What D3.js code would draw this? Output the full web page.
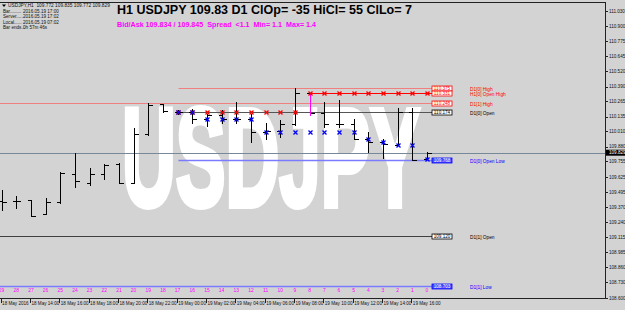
<!DOCTYPE html>
<html>
<head>
<meta charset="utf-8">
<script src="https://cdn.jsdelivr.net/npm/d3@7"></script>
<style>
body { margin: 0; background: #d3d3d3; }
svg { display: block; }
text { font-family: "Liberation Sans", Arial, sans-serif; }
</style>
</head>
<body>
<svg id="chart" width="625" height="310"></svg>
<script>
// H1 bars, numbered like the chart: 29 = oldest shown, 0 = current
const barNo  = [29, 28, 27, 26, 25, 24, 23, 22, 21, 20, 19, 18, 17, 16, 15, 14, 13, 12, 11, 10, 9, 8, 7, 6, 5, 4, 3, 2, 1, 0];
const opens  = [109.420, 109.420, 109.428, 109.310, 109.411, 109.646, 109.575, 109.646, 109.731, 109.570, 109.988, 110.239, 110.174, 110.172, 110.112, 110.150, 110.112, 110.112, 110.002, 110.016, 110.072, 110.331, 110.163, 110.072, 110.072, 109.943, 109.917, 109.894, 110.172, 109.772];
const highs  = [109.513, 109.462, 109.428, 109.448, 109.668, 109.829, 109.697, 109.731, 109.739, 110.036, 110.248, 110.239, 110.190, 110.199, 110.160, 110.190, 110.261, 110.160, 110.078, 110.106, 110.375, 110.331, 110.261, 110.276, 110.112, 110.007, 109.943, 110.205, 110.205, 109.835];
const lows   = [109.344, 109.358, 109.293, 109.310, 109.400, 109.536, 109.555, 109.604, 109.570, 109.570, 109.979, 110.177, 110.157, 110.083, 110.052, 110.083, 110.078, 109.922, 109.943, 109.965, 110.064, 110.149, 110.049, 110.049, 109.943, 109.838, 109.780, 109.894, 109.768, 109.772];
const closes = [109.414, 109.420, 109.293, 109.411, 109.660, 109.587, 109.646, 109.725, 109.575, 109.988, 110.236, 110.183, 110.172, 110.112, 110.150, 110.112, 110.112, 110.002, 110.016, 110.072, 110.331, 110.163, 110.072, 110.072, 109.943, 109.917, 109.903, 110.172, 109.768, 109.829];
const dayStartBar = 17;
const bid = 109.829;

// horizontal levels on the right
const levelNames  = ["D1[0] High", "H1[0] Open High", "D1[1] High", "D1[0] Open", "D1[0] Open Low", "D1[1] Open", "D1[1] Low"];
const levelPrices = [110.375, 110.331, 110.248, 110.174, 109.768, 109.120, 108.703];
const levelFrom   = [17, 8, 30, 17, 17, 30, 30];

// axes
const priceTicks = [111.030, 110.900, 110.775, 110.645, 110.520, 110.390, 110.265, 110.135, 110.010, 109.880, 109.755, 109.625, 109.495, 109.370, 109.240, 109.115, 108.985, 108.860, 108.730, 108.600];
const timeBars   = [29, 27, 25, 23, 21, 19, 17, 15, 13, 11, 9, 7, 5, 3, 1];
const timeLabels = ["18 May 2016", "18 May 14:00", "18 May 16:00", "18 May 18:00", "18 May 20:00", "18 May 22:00", "19 May 00:00", "19 May 02:00", "19 May 04:00", "19 May 06:00", "19 May 08:00", "19 May 10:00", "19 May 12:00", "19 May 14:00", "19 May 16:00"];

const infoKeys = ["Bar.........", "Server.....", "Local......", "Bar ends..."];
const infoVals = ["2016.05.19 17:00", "2016.05.19 17:02", "2016.05.19 07:02", "0h 57m 46s"];
const titleText = "H1 USDJPY 109.83 D1 ClOp= -35 HiCl= 55 ClLo= 7";
const spreadText = "Bid/Ask 109.834 / 109.845  Spread  <1.1  Min= 1.1  Max= 1.4";

const svg = d3.select("svg#chart");
const plotR = 605, plotB = 298, plotT = 2;

const x = d3.scaleLinear().domain([29, 0]).range([1.6, 427]);
const y = d3.scaleLinear().domain([108.6, 111.03]).range([297.7, 11]);
const px = v => Math.round(x(v)) + 0.5;
const py = v => Math.round(y(v)) + 0.5;

const levelColor = {
   "D1[0] High": "#f08080", "H1[0] Open High": "#ff0000", "D1[1] High": "#f08080",
   "D1[0] Open": "#555555", "D1[0] Open Low": "#7b7bff", "D1[1] Open": "#404040", "D1[1] Low": "#7b7bff"
};
const labelColor = {
   "D1[0] High": "#ff0000", "H1[0] Open High": "#ff0000", "D1[1] High": "#ff0000",
   "D1[0] Open": "#000000", "D1[0] Open Low": "#0000ff", "D1[1] Open": "#000000", "D1[1] Low": "#0000ff"
};

svg.append("rect").attr("width", 625).attr("height", 310).attr("fill", "#d3d3d3");

svg.append("clipPath").attr("id", "plot")
   .append("rect").attr("x", 0).attr("y", plotT).attr("width", plotR).attr("height", plotB - plotT);

const g = svg.append("g").attr("clip-path", "url(#plot)");

// watermark
g.append("text")
   .attr("x", 122).attr("y", 206)
   .attr("textLength", 298).attr("lengthAdjust", "spacingAndGlyphs")
   .attr("font-size", 140).attr("font-weight", "bold")
   .attr("fill", "#ffffff")
   .attr("stroke", "#ffffff").attr("stroke-width", 6).attr("stroke-linejoin", "miter")
   .text("USDJPY");

// bid line
g.append("line")
   .attr("x1", 0).attr("x2", plotR)
   .attr("y1", py(bid)).attr("y2", py(bid))
   .attr("stroke", "#778899");

// level lines, boxes and names
const levels = levelNames.map((name, i) => ({ name, price: levelPrices[i], from: levelFrom[i] }));
g.selectAll(".level").data(levels).join("line")
   .attr("class", "level")
   .attr("x1", d => d.from >= 30 ? 0 : px(d.from))
   .attr("x2", 432)
   .attr("y1", d => py(d.price)).attr("y2", d => py(d.price))
   .attr("stroke", d => levelColor[d.name])
   .attr("stroke-width", d => d.name.includes("Low") ? 1.5 : 1);

// running extremes of the H1 opens since the day started
const dayIdx = barNo.map((b, i) => i).filter(i => barNo[i] <= dayStartBar);
let hi = -Infinity, lo = Infinity;
const maxMarks = [], minMarks = [];
dayIdx.forEach(i => {
   hi = Math.max(hi, opens[i]);
   lo = Math.min(lo, opens[i]);
   maxMarks.push({ bar: barNo[i], price: hi });
   minMarks.push({ bar: barNo[i], price: lo });
});
const cross = "M-2,-2L2,2M-2,2L2,-2";

// bars
const bars = barNo.map((b, i) => ({ b, o: opens[i], h: highs[i], l: lows[i], c: closes[i] }));
g.selectAll(".bar").data(bars).join("path")
   .attr("class", "bar")
   .attr("d", d => {
      const cx = px(d.b);
      return `M${cx},${py(d.h) - 0.5}V${py(d.l) + 0.5}M${cx - 4},${py(d.o)}H${cx}M${cx},${py(d.c)}H${cx + 4}`;
   })
   .attr("fill", "none")
   .attr("stroke", "#000")
   .attr("shape-rendering", "crispEdges");

// the bar that set the session's open high, highlighted
g.append("line")
   .attr("x1", px(8)).attr("x2", px(8))
   .attr("y1", py(opens[barNo.indexOf(8)])).attr("y2", py(lows[barNo.indexOf(8)]))
   .attr("stroke", "#ff00ff").attr("shape-rendering", "crispEdges");

g.selectAll(".maxm").data(maxMarks).join("path")
   .attr("class", "maxm")
   .attr("transform", d => `translate(${px(d.bar)},${py(d.price)})`)
   .attr("d", cross).attr("stroke", "#ff0000").attr("stroke-width", 1.3);

g.selectAll(".minm").data(minMarks).join("path")
   .attr("class", "minm")
   .attr("transform", d => `translate(${px(d.bar)},${py(d.price)})`)
   .attr("d", cross).attr("stroke", "#0000ff").attr("stroke-width", 1.3);

// price boxes next to the levels
const boxes = g.selectAll(".box").data(levels).join("g")
   .attr("class", "box")
   .attr("transform", d => `translate(432,${py(d.price)})`);
boxes.append("rect")
   .attr("x", 0).attr("y", -2.5).attr("width", 20).attr("height", 5)
   .attr("fill", d => d.name.includes("Low") ? "#4a4aff" : "#ffffff")
   .attr("stroke", d => labelColor[d.name]).attr("stroke-width", 0.8);
boxes.append("text")
   .attr("x", 10).attr("y", 1.6).attr("text-anchor", "middle")
   .attr("font-size", 4.6)
   .attr("fill", d => d.name.includes("Low") ? "#ffffff" : labelColor[d.name])
   .text(d => d.price.toFixed(3));

g.selectAll(".lname").data(levels).join("text")
   .attr("class", "lname")
   .attr("x", 470).attr("y", d => py(d.price) + 2)
   .attr("font-family", "'Liberation Mono', monospace")
   .attr("font-size", 4.8)
   .attr("fill", d => labelColor[d.name])
   .text(d => d.name);

// bar numbers
g.selectAll(".num").data(barNo).join("text")
   .attr("class", "num")
   .attr("x", d => x(d)).attr("y", 292)
   .attr("text-anchor", "middle").attr("font-size", 5)
   .attr("fill", "#ff00ff")
   .text(d => d);

// frame
svg.append("path")
   .attr("d", `M0,${plotT + 0.5}H${plotR + 0.5}V${plotB + 0.5}H0`)
   .attr("fill", "none").attr("stroke", "#222").attr("shape-rendering", "crispEdges");

// price axis
const ya = svg.append("g");
ya.selectAll("line").data(priceTicks).join("line")
   .attr("x1", plotR).attr("x2", plotR + 3)
   .attr("y1", d => py(d)).attr("y2", d => py(d))
   .attr("stroke", "#222").attr("shape-rendering", "crispEdges");
ya.selectAll("text").data(priceTicks).join("text")
   .attr("x", plotR + 4).attr("y", d => y(d) + 1.8)
   .attr("font-size", 4.6).attr("fill", "#111")
   .text(d => d.toFixed(3));
svg.append("rect")
   .attr("x", plotR + 1).attr("y", y(bid) - 3).attr("width", 19).attr("height", 6)
   .attr("fill", "#000");
svg.append("text")
   .attr("x", plotR + 4).attr("y", y(bid) + 1.8)
   .attr("font-size", 4.6).attr("fill", "#fff")
   .text(bid.toFixed(3));

// time axis
const xa = svg.append("g");
xa.selectAll("line").data(timeBars).join("line")
   .attr("x1", d => px(d) - 1).attr("x2", d => px(d) - 1)
   .attr("y1", plotB).attr("y2", plotB + 5)
   .attr("stroke", "#222").attr("shape-rendering", "crispEdges");
xa.selectAll("text").data(timeBars).join("text")
   .attr("x", d => x(d) + 0.5).attr("y", 305)
   .attr("font-size", 4.6).attr("fill", "#111")
   .text((d, i) => timeLabels[i]);

// titles
svg.append("text")
   .attr("x", 117).attr("y", 13.5)
   .attr("font-size", 13).attr("font-weight", "bold").attr("fill", "#000")
   .attr("textLength", 295).attr("lengthAdjust", "spacingAndGlyphs")
   .text(titleText);
svg.append("text")
   .attr("x", 117).attr("y", 26.5)
   .attr("font-size", 7.5).attr("font-weight", "bold").attr("fill", "#ff00ff")
   .attr("textLength", 199).attr("lengthAdjust", "spacingAndGlyphs")
   .attr("xml:space", "preserve")
   .text(spreadText);

// top-left info block
svg.append("path").attr("d", "M2,4.5H6L4,7Z").attr("fill", "#000");
svg.append("text")
   .attr("x", 8).attr("y", 6.8).attr("font-size", 4.8).attr("fill", "#111")
   .attr("xml:space", "preserve")
   .text("USDJPY,H1  " + [opens[29], highs[29], lows[29], closes[29]].map(v => v.toFixed(3)).join(" "));
svg.selectAll(".info").data(infoKeys).join("text")
   .attr("class", "info")
   .attr("x", 3).attr("y", (d, i) => 12.5 + i * 5.6)
   .attr("font-size", 4.6).attr("fill", "#111")
   .text(d => d);
svg.selectAll(".infov").data(infoVals).join("text")
   .attr("class", "infov")
   .attr("x", 23).attr("y", (d, i) => 12.5 + i * 5.6)
   .attr("font-size", 4.6).attr("fill", "#111")
   .text(d => d);
</script>
</body>
</html>
